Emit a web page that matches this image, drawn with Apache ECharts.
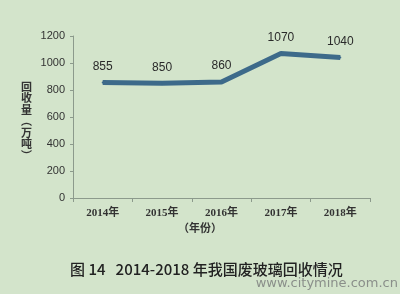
<!DOCTYPE html>
<html><head><meta charset="utf-8">
<script src="https://cdn.jsdelivr.net/npm/echarts@6/dist/echarts.min.js"></script>
<style>html,body{margin:0;padding:0;background:#d3e4cb;}#c{width:400px;height:294px;}</style>
</head><body><div id="c"></div>
<script>
const categories = ['2014年','2015年','2016年','2017年','2018年'];
const values = [855, 850, 860, 1070, 1040];
const yTicks = [0, 200, 400, 600, 800, 1000, 1200];
const yName = '回\n收\n量\n︵\n万\n吨\n︶';
const xName = '（年份）';
const title = '图 14   2014-2018 年我国废玻璃回收情况';
const watermark = 'www.citymine.com.cn';

const chart = echarts.init(document.getElementById('c'));
chart.setOption({
  backgroundColor: '#d3e4cb',
  animation: false,
  textStyle: {fontFamily: '"Noto Sans CJK SC", sans-serif'},
  grid: {left: 73, right: 30, top: 36, bottom: 96},
  graphic: [
    {type: 'text', left: 'center', top: 222, style: {text: xName, font: 'bold 11px "Noto Sans CJK SC"', fill: '#333'}},
    {type: 'text', left: 70, top: 262, style: {text: title, font: '500 15px "Noto Sans CJK SC"', fill: '#222'}},
    {type: 'text', right: 2, top: 277, style: {text: watermark, font: '13px "DejaVu Sans"', fill: '#8a8f8a'}},
    {type: 'text', left: 21, top: 81, style: {text: yName, font: 'bold 11px "Noto Sans CJK SC"', fill: '#333', lineHeight: 11.5, align: 'center'}}
  ],
  xAxis: {
    type: 'category', data: categories, boundaryGap: true,
    axisLine: {lineStyle: {color: '#8c9a8c', width: 1}},
    axisTick: {show: true, length: 4, lineStyle: {color: '#8c9a8c'}},
    axisLabel: {color: '#333', fontSize: 11, fontWeight: 'bold', margin: 10, fontFamily: '"Liberation Serif", "Noto Sans CJK SC", serif'}
  },
  yAxis: {
    type: 'value', min: 0, max: 1200, interval: 200,
    axisLine: {show: true, lineStyle: {color: '#8c9a8c'}},
    axisTick: {show: true, length: 3, lineStyle: {color: '#8c9a8c'}},
    splitLine: {show: false},
    axisLabel: {color: '#333', fontSize: 11, margin: 8, fontFamily: '"Liberation Sans", sans-serif',
      formatter: v => yTicks.includes(v) ? String(v) : ''}
  },
  series: [{
    type: 'line', data: values, symbol: 'circle', symbolSize: 2, showSymbol: true,
    itemStyle: {color: '#3d6a8a'},
    lineStyle: {color: '#3d6a8a', width: 5},
    label: {show: true, position: 'top', distance: 9, color: '#2a2a2a', fontSize: 12, fontFamily: '"Liberation Sans", sans-serif'}
  }]
});
</script></body></html>
